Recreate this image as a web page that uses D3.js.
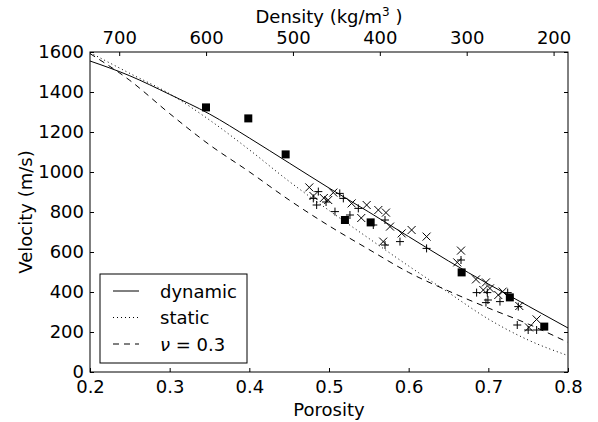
<!DOCTYPE html>
<html>
<head>
<meta charset="utf-8">
<script src="https://cdn.jsdelivr.net/npm/d3@7"></script>
<style>
  body { margin: 0; background: #fff; }
  text { font-family: "DejaVu Sans", sans-serif; }
</style>
</head>
<body>
<div id="chart"></div>
<script>
const width = 598;
const height = 422;
const plotLeft = 90, plotRight = 568, plotTop = 52, plotBottom = 372;

// curve values
const porosity = [0.2, 0.25, 0.3, 0.35, 0.4, 0.45, 0.5, 0.55, 0.6, 0.65, 0.7, 0.75, 0.8];
const dynamicV = [1555, 1481, 1388, 1290, 1170, 1045, 920, 800, 677, 555, 440, 330, 220];
const staticV  = [1597, 1493, 1391, 1260, 1111, 953, 808, 668, 530, 397, 265, 160, 82];
const nuV      = [1592, 1458, 1292, 1136, 1001, 860, 731, 613, 498, 405, 320, 240, 148];

// measurements
const squares = [[0.3456, 1323], [0.3987, 1268], [0.4456, 1088], [0.52, 760], [0.5523, 748],
                 [0.6665, 498], [0.727, 373], [0.7702, 227]];
const crosses = [[0.4753, 923], [0.4805, 880], [0.4935, 870], [0.5054, 897], [0.499, 860], [0.5284, 843],
                 [0.5473, 835], [0.5619, 810], [0.5715, 797], [0.5766, 727], [0.568, 652],
                 [0.5912, 693], [0.6037, 710], [0.6225, 677], [0.6657, 607], [0.661, 548],
                 [0.6845, 463], [0.697, 448], [0.6937, 410], [0.702, 418], [0.718, 402],
                 [0.7125, 385], [0.7389, 330], [0.7606, 263], [0.751, 223], [0.5405, 770]];
const pluses = [[0.4866, 902], [0.4803, 868], [0.4845, 835], [0.518, 868], [0.5075, 802],
                [0.5263, 785], [0.5368, 818], [0.5556, 735], [0.5703, 760], [0.5703, 635],
                [0.5891, 652], [0.6225, 618], [0.4963, 850], [0.5135, 893], [0.6853, 397],
                [0.697, 347], [0.6987, 397], [0.7146, 352], [0.7243, 397], [0.7376, 327],
                [0.7363, 235], [0.75, 210], [0.7606, 210], [0.6657, 560], [0.6995, 360]];

const xTicks = [0.2, 0.3, 0.4, 0.5, 0.6, 0.7, 0.8];
const yTicks = [0, 200, 400, 600, 800, 1000, 1200, 1400, 1600];
const densityTicks = [700, 600, 500, 400, 300, 200];
const iceDensity = 917;

const legendItems = [
  { label: "dynamic", dash: null },
  { label: "static", dash: "1,3" },
  { label: "nu", dash: "6,5" }
];

const svg = d3.select('#chart').append('svg')
  .attr('width', width)
  .attr('height', height);

const xScale = d3.scaleLinear().domain([0.2, 0.8]).range([plotLeft, plotRight]);
const yScale = d3.scaleLinear().domain([0, 1600]).range([plotBottom, plotTop]);
const dScale = d3.scaleLinear()
  .domain([iceDensity * (1 - 0.2), iceDensity * (1 - 0.8)])
  .range([plotLeft, plotRight]);

const plot = svg.append('g');
plot.append('clipPath').attr('id', 'clip')
  .append('rect').attr('x', plotLeft).attr('y', plotTop)
  .attr('width', plotRight - plotLeft).attr('height', plotBottom - plotTop);

const line = d3.line()
  .x(d => xScale(d[0]))
  .y(d => yScale(d[1]))
  .curve(d3.curveMonotoneX);

const curves = [
  { values: dynamicV, dash: null },
  { values: staticV, dash: "1,3" },
  { values: nuV, dash: "6,5" }
];
plot.append('g').attr('clip-path', 'url(#clip)')
  .selectAll('path')
  .data(curves).enter()
  .append('path')
  .attr('d', c => line(porosity.map((p, i) => [p, c.values[i]])))
  .attr('fill', 'none')
  .attr('stroke', '#000')
  .attr('stroke-width', 1)
  .attr('stroke-dasharray', c => c.dash);

// markers
const m = 4;
plot.append('g').selectAll('path')
  .data(crosses).enter()
  .append('path')
  .attr('d', d => {
    const x = xScale(d[0]), y = yScale(d[1]);
    return `M${x - m},${y - m}L${x + m},${y + m}M${x - m},${y + m}L${x + m},${y - m}`;
  })
  .attr('stroke', '#000').attr('stroke-width', 1);

plot.append('g').selectAll('path')
  .data(pluses).enter()
  .append('path')
  .attr('d', d => {
    const x = xScale(d[0]), y = yScale(d[1]);
    return `M${x - m},${y}L${x + m},${y}M${x},${y - m}L${x},${y + m}`;
  })
  .attr('stroke', '#000').attr('stroke-width', 1);

plot.append('g').selectAll('rect')
  .data(squares).enter()
  .append('rect')
  .attr('x', d => xScale(d[0]) - 4)
  .attr('y', d => yScale(d[1]) - 4)
  .attr('width', 8).attr('height', 8)
  .attr('fill', '#000');

// axes, ticks inside
function styleAxis(g) {
  g.select('.domain').remove();
  g.selectAll('.tick line').attr('stroke', '#000');
  g.selectAll('.tick text').attr('font-size', 18).attr('fill', '#000')
    .style('font-family', '"DejaVu Sans", sans-serif');
}

svg.append('g')
  .attr('transform', `translate(0,${plotBottom})`)
  .call(d3.axisBottom(xScale).tickValues(xTicks).tickFormat(d3.format('.1f'))
    .tickSizeInner(-4).tickPadding(8))
  .call(styleAxis);

svg.append('g')
  .attr('transform', `translate(${plotLeft},0)`)
  .call(d3.axisLeft(yScale).tickValues(yTicks).tickFormat(d3.format('d'))
    .tickSizeInner(-4).tickPadding(6))
  .call(styleAxis);

svg.append('g')
  .attr('transform', `translate(${plotRight},0)`)
  .call(d3.axisRight(yScale).tickValues(yTicks).tickFormat('').tickSizeInner(-4))
  .call(styleAxis);

svg.append('g')
  .attr('transform', `translate(0,${plotTop})`)
  .call(d3.axisTop(dScale).tickValues(densityTicks).tickFormat(d3.format('d'))
    .tickSizeInner(-4).tickPadding(8))
  .call(styleAxis);

svg.append('rect')
  .attr('x', plotLeft).attr('y', plotTop)
  .attr('width', plotRight - plotLeft).attr('height', plotBottom - plotTop)
  .attr('fill', 'none').attr('stroke', '#000').attr('stroke-width', 1);

// axis labels
svg.append('text')
  .attr('x', (plotLeft + plotRight) / 2).attr('y', 416)
  .attr('text-anchor', 'middle').attr('font-size', 18)
  .text('Porosity');

svg.append('text')
  .attr('transform', `translate(32,${(plotTop + plotBottom) / 2}) rotate(-90)`)
  .attr('text-anchor', 'middle').attr('font-size', 18)
  .text('Velocity (m/s)');

const title = svg.append('text')
  .attr('x', (plotLeft + plotRight) / 2).attr('y', 23)
  .attr('text-anchor', 'middle').attr('font-size', 18);
title.append('tspan').text('Density (kg/m');
title.append('tspan').attr('font-size', 12).attr('dy', -7).text('3');
title.append('tspan').attr('dy', 7).text(' )');

// legend
const lg = svg.append('g').attr('transform', 'translate(100,274)');
lg.append('rect').attr('width', 147).attr('height', 89)
  .attr('fill', '#fff').attr('stroke', '#000').attr('stroke-width', 1);
const rows = lg.selectAll('g.row')
  .data(legendItems).enter()
  .append('g').attr('class', 'row')
  .attr('transform', (d, i) => `translate(0,${17 + i * 26.5})`);
rows.append('line')
  .attr('x1', 13).attr('x2', 39).attr('y1', 0).attr('y2', 0)
  .attr('stroke', '#000').attr('stroke-width', 1)
  .attr('stroke-dasharray', d => d.dash);
rows.append('text')
  .attr('x', 60).attr('y', 6.5).attr('font-size', 18)
  .each(function (d) {
    const t = d3.select(this);
    if (d.label === 'nu') {
      t.append('tspan').attr('font-style', 'italic').text('\u03BD');
      t.append('tspan').text(' = 0.3');
    } else {
      t.text(d.label);
    }
  });
</script>
</body>
</html>
